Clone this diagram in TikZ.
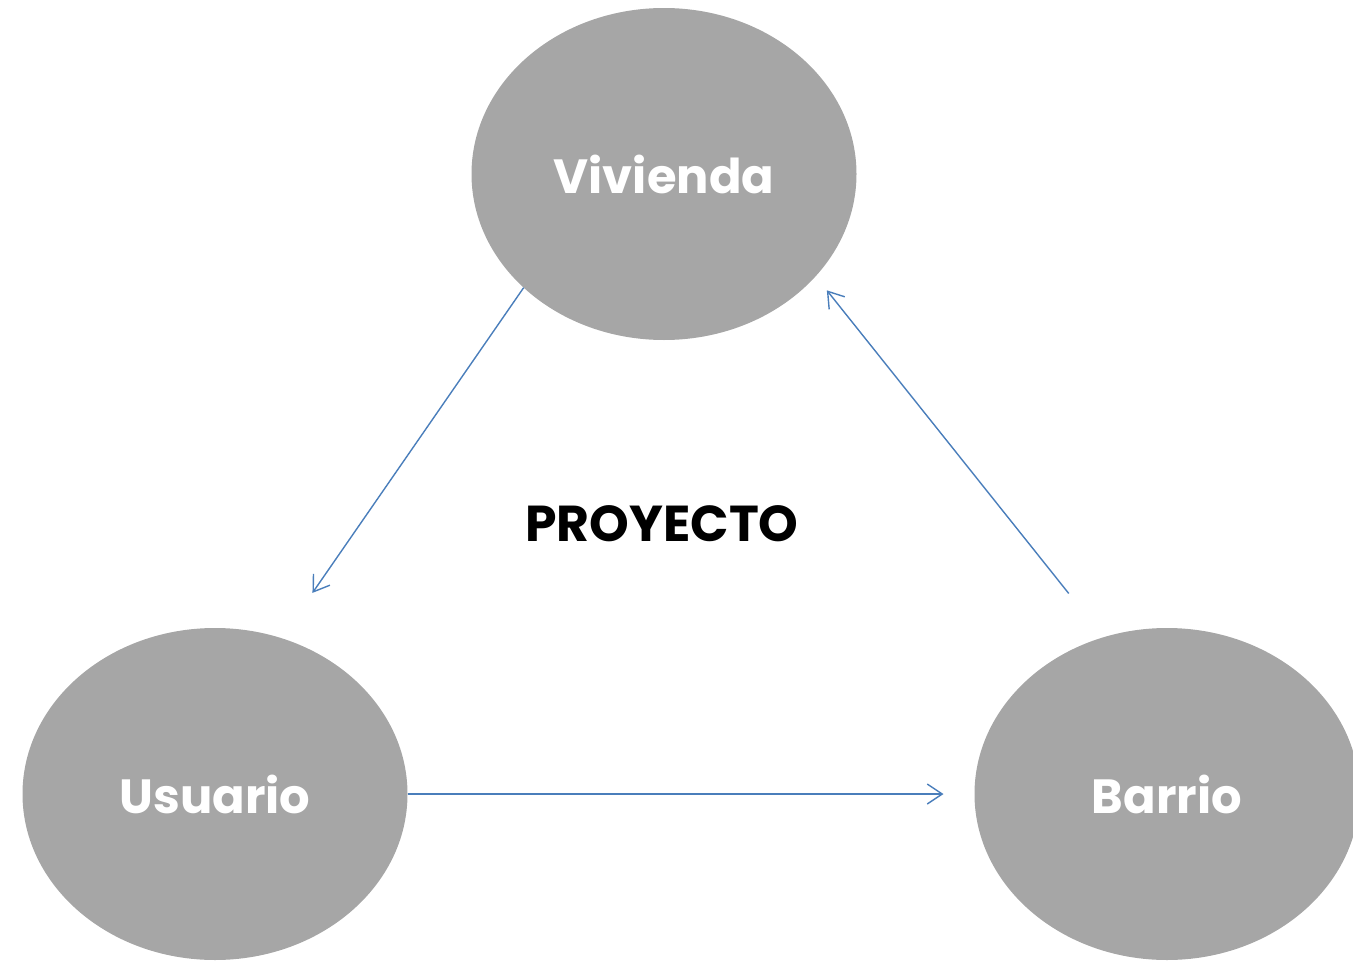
\documentclass[tikz,border=0pt]{standalone}
\usepackage{fontspec}
\setmainfont{Poppins}
\usetikzlibrary{shapes.geometric}
\usetikzlibrary{arrows.meta}
\definecolor{bubblegray}{HTML}{A6A6A6}
\definecolor{linkblue}{HTML}{4A7EBB}
\tikzset{%
    bubble/.style={shape=ellipse,fill=bubblegray,inner sep=0pt,outer sep=0pt,minimum width=385pt,minimum height=332pt,text=white,font=\bfseries\fontsize{48}{58}\selectfont},
    link/.style={-{Straight Barb[length=15pt,width=20pt]},linkblue,line width=1.4pt},
    title/.style={font=\bfseries\fontsize{50.5}{60}\selectfont},
}

\begin{document}
\begin{tikzpicture}[x=1pt,y=-1pt]
        \useasboundingbox (0,0) rectangle (1353,964);
        \clip (0,0) rectangle (1353,964);

        \node [bubble] (viv) at (664,174) {Vivienda};
        \node [bubble] (usu) at (215,794) {Usuario};
        \node [bubble] (bar) at (1167,794) {Barrio};
        \node [title] (proy) at (662,524) {PROYECTO};

        % arrows round the triangle
        \draw [link,shorten >=55pt] (viv.219.5) -- (usu.67.5);
        \draw [link,shorten <=56pt,shorten >=18pt] (bar.112.9) -- (viv.-34.5);
        \draw [link,shorten >=31pt] (usu.east) -- (bar.west);
\end{tikzpicture}
\end{document}
